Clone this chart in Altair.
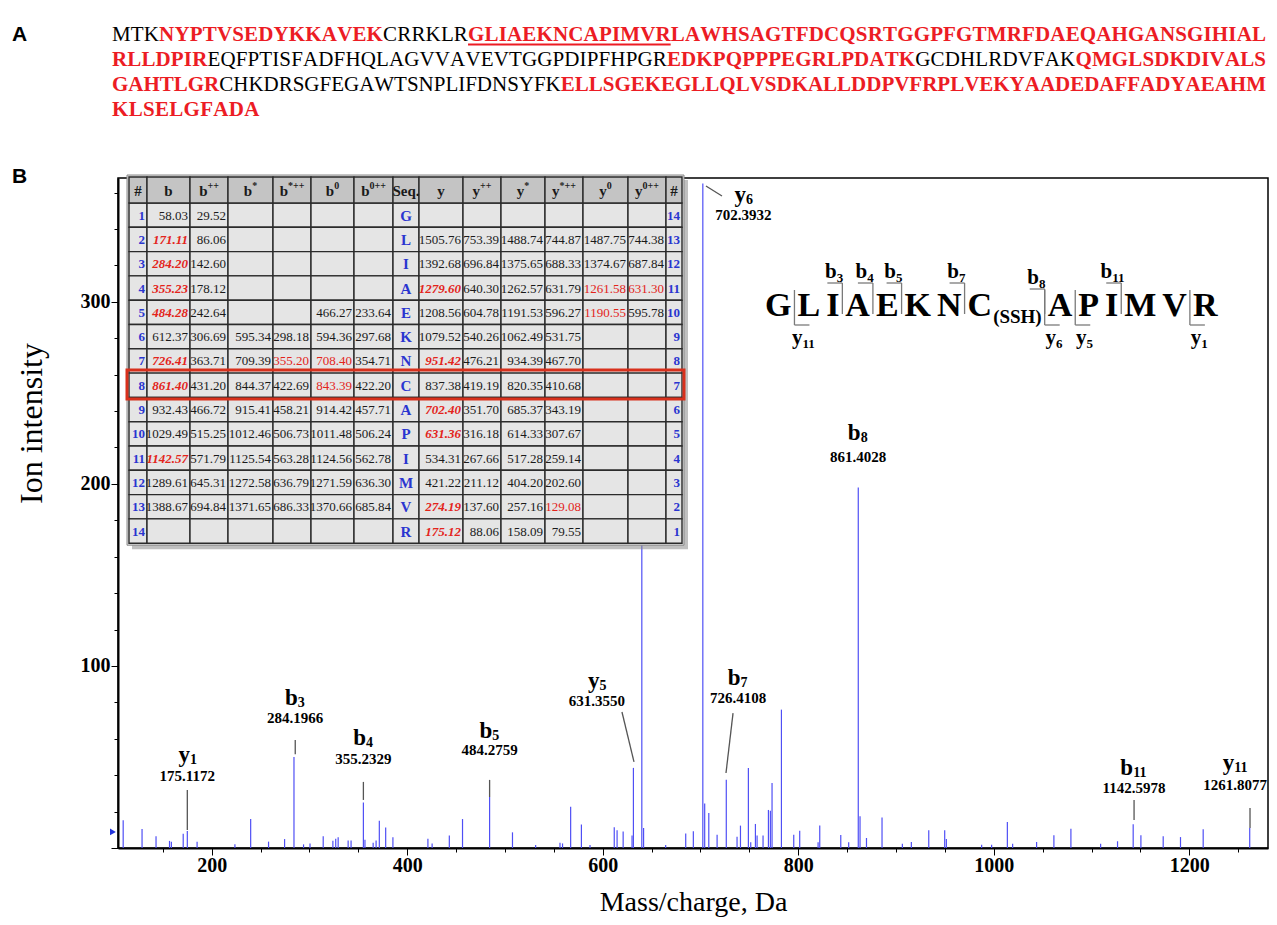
import altair as alt
import pandas as pd

SERIF = "Liberation Serif"
SANS = "Liberation Sans"
PEAK_BLUE = "#4f4ff5"
RED = "#e3241b"
SEQ_RED = "#ec1c24"
TBL_BLUE = "#2a35d0"

# ---------------- spectrum peaks (m/z, intensity) ----------------
peak_mz = [109.5, 128.8, 143.1, 156.9, 158.8, 170.9, 175.1, 185.1, 223.8, 239.9,
           258.2, 274.6, 284.2, 294.0, 300.6, 314.1, 324.0, 326.9, 329.4, 339.6,
           342.6, 355.2, 356.8, 365.2, 368.2, 371.5, 378.0, 385.4, 421.2, 425.5,
           443.1, 456.6, 484.3, 507.7, 531.4, 556.3, 558.9, 567.2, 578.2, 587.0,
           611.8, 614.7, 620.9, 630.0, 631.4, 640.0, 641.8, 664.4, 684.9, 692.7,
           702.4, 704.3, 708.5, 717.0, 726.4, 737.4, 740.9, 749.0, 751.4, 756.2,
           757.9, 764.0, 769.5, 771.5, 773.2, 782.8, 795.4, 801.5, 820.3, 822.0,
           843.5, 851.6, 861.4, 863.2, 869.8, 885.7, 906.5, 915.7, 933.5, 949.8,
           951.5, 987.6, 997.8, 1013.9, 1019.3, 1043.8, 1061.5, 1078.9, 1109.3, 1126.6,
           1142.6, 1150.5, 1173.3, 1191.0, 1214.2, 1261.8]
peak_int = [15.3, 10.4, 6.5, 3.9, 3.5, 7.8, 9.4, 3.5, 2.0, 15.9,
            3.5, 4.9, 50.0, 2.0, 2.5, 6.5, 4.0, 5.1, 5.9, 4.1,
            4.1, 25.0, 4.5, 2.9, 4.1, 14.9, 11.2, 5.9, 5.1, 2.5,
            6.9, 15.9, 28.0, 8.6, 1.6, 2.9, 2.5, 22.7, 12.9, 1.6,
            11.4, 9.8, 9.0, 6.9, 44.0, 330.0, 11.0, 1.6, 8.0, 9.2,
            365.0, 24.5, 19.2, 7.3, 37.5, 6.2, 12.3, 44.0, 3.1, 13.2,
            6.8, 6.8, 20.9, 20.5, 35.7, 76.0, 7.3, 9.5, 3.1, 12.3,
            7.1, 3.1, 198.0, 17.4, 5.5, 16.8, 2.4, 3.3, 9.7, 9.7,
            5.0, 1.8, 1.8, 14.3, 2.4, 3.3, 7.0, 10.6, 2.4, 3.7,
            13.0, 7.0, 6.4, 6.0, 10.3, 11.0]
marker_mz = [99.0]
marker_int = [8.8]

# ---------------- ion annotations ----------------
ion_letter = ["y", "b", "b", "b", "y", "y", "b", "b", "b", "y"]
ion_sub = ["1", "3", "4", "5", "5", "6", "7", "8", "11", "11"]
ion_mass = ["175.1172", "284.1966", "355.2329", "484.2759", "631.3550",
            "702.3932", "726.4108", "861.4028", "1142.5978", "1261.8077"]
label_mz = [175.1, 285.5, 355.2, 484.3, 594.1, 744.0, 738.4, 861.2, 1143.5, 1247.0]
label_int_ion = [51.0, 82.3, 60.3, 64.2, 91.7, 358.6, 93.3, 227.8, 43.8, 46.6]
label_int_mass = [39.5, 71.4, 48.9, 53.8, 80.8, 347.7, 82.4, 214.7, 33.0, 34.6]
leader_mz1 = [175.1, 285.5, 355.2, 484.3, 619.7, 705.6, 733.3, 1143.5, 1262.1]
leader_int1 = [31.9, 59.3, 36.3, 37.4, 74.7, 363.6, 74.1, 26.4, 22.0]
leader_mz2 = [175.1, 285.5, 355.2, 484.3, 632.0, 722.0, 726.1, 1143.5, 1262.1]
leader_int2 = [9.9, 51.5, 26.4, 28.0, 47.3, 358.1, 41.2, 15.4, 11.0]

# ---------------- fragment table ----------------
tbl_header_base = ["#", "b", "b", "b", "b", "b", "b", "Seq.", "y", "y", "y", "y", "y", "y", "#"]
tbl_header_sup = ["", "", "++", "*", "*++", "0", "0++", "", "", "++", "*", "*++", "0", "0++", ""]
tbl_idx = [str(i) for i in range(1, 15)]
tbl_b = ["58.03", "171.11", "284.20", "355.23", "484.28", "612.37", "726.41", "861.40", "932.43",
         "1029.49", "1142.57", "1289.61", "1388.67", ""]
tbl_b2 = ["29.52", "86.06", "142.60", "178.12", "242.64", "306.69", "363.71", "431.20", "466.72",
          "515.25", "571.79", "645.31", "694.84", ""]
tbl_bs = ["", "", "", "", "", "595.34", "709.39", "844.37", "915.41", "1012.46", "1125.54",
          "1272.58", "1371.65", ""]
tbl_bs2 = ["", "", "", "", "", "298.18", "355.20", "422.69", "458.21", "506.73", "563.28",
           "636.79", "686.33", ""]
tbl_b0 = ["", "", "", "", "466.27", "594.36", "708.40", "843.39", "914.42", "1011.48", "1124.56",
          "1271.59", "1370.66", ""]
tbl_b02 = ["", "", "", "", "233.64", "297.68", "354.71", "422.20", "457.71", "506.24", "562.78",
           "636.30", "685.84", ""]
tbl_seq = list("GLIAEKNCAPIMVR")
tbl_y = ["", "1505.76", "1392.68", "1279.60", "1208.56", "1079.52", "951.42", "837.38", "702.40",
         "631.36", "534.31", "421.22", "274.19", "175.12"]
tbl_y2 = ["", "753.39", "696.84", "640.30", "604.78", "540.26", "476.21", "419.19", "351.70",
          "316.18", "267.66", "211.12", "137.60", "88.06"]
tbl_ys = ["", "1488.74", "1375.65", "1262.57", "1191.53", "1062.49", "934.39", "820.35", "685.37",
          "614.33", "517.28", "404.20", "257.16", "158.09"]
tbl_ys2 = ["", "744.87", "688.33", "631.79", "596.27", "531.75", "467.70", "410.68", "343.19",
           "307.67", "259.14", "202.60", "129.08", "79.55"]
tbl_y0 = ["", "1487.75", "1374.67", "1261.58", "1190.55", "", "", "", "", "", "", "", "", ""]
tbl_y02 = ["", "744.38", "687.84", "631.30", "595.78", "", "", "", "", "", "", "", "", ""]
tbl_ridx = [str(i) for i in range(14, 0, -1)]
matched_bold = {"b": [2, 3, 4, 5, 7, 8, 11], "y": [4, 7, 9, 10, 13, 14]}
matched_plain = {"bs2": [7], "b0": [7, 8], "y0": [4, 5], "y02": [4], "ys2": [13]}
highlight_row = 8

# ---------------- peptide ----------------
pep_res = list("GLIAEKNCAPIMVR")
pep_mod = "(SSH)"
pep_mod_after = 8
pep_marks_kind = ["y", "b", "b", "b", "b", "b", "y", "y", "b", "y"]
pep_marks_sub = ["11", "3", "4", "5", "7", "8", "6", "5", "11", "1"]
pep_marks_after = [1, 3, 4, 5, 7, 8, 8, 9, 11, 13]

# ---------------- panel A sequence ----------------
seq_lines = [
    [("MTK", 0, 0), ("NYPTVSEDYKKAVEK", 1, 0), ("CRRKLR", 0, 0), ("GLIAEKNCAPIMVR", 1, 1),
     ("LAWHSAGTFDCQSRTGGPFGTMRFDAEQAHGANSGIHIAL", 1, 0)],
    [("RLLDPIR", 1, 0), ("EQFPTISFADFHQLAGVVAVEVTGGPDIPFHPGR", 0, 0), ("EDKPQPPPEGRLPDATK", 1, 0),
     ("GCDHLRDVFAK", 0, 0), ("QMGLSDKDIVALS", 1, 0)],
    [("GAHTLGR", 1, 0), ("CHKDRSGFEGAWTSNPLIFDNSYFK", 0, 0),
     ("ELLSGEKEGLLQLVSDKALLDDPVFRPLVEKYAADEDAFFADYAEAHM", 1, 0)],
    [("KLSELGFADA", 1, 0)],
]

# ================= layout (page pixels) =================
PX0, PY0, W, H = 118, 178, 1150, 670
MZ_DOM = [104.2, 1280.5]
INT_DOM = [0, 368]

TIMES_R = dict(A=722, B=667, C=667, D=722, E=611, F=556, G=722, H=722, I=333, J=389, K=722,
               L=611, M=889, N=722, O=722, P=556, Q=722, R=667, S=556, T=611, U=722, V=722,
               W=944, X=722, Y=722, Z=611)
TIMES_B = dict(A=722, B=667, C=722, D=722, E=667, F=611, G=778, H=778, I=389, J=500, K=778,
               L=667, M=944, N=722, O=778, P=611, Q=778, R=722, S=556, T=667, U=722, V=722,
               W=1000, X=722, Y=722, Z=667)

# ---- spectrum layers ----
sx_mz = alt.Scale(domain=MZ_DOM, nice=False, zero=False)
sy_int = alt.Scale(domain=INT_DOM, nice=False, zero=False)
x_axis = alt.Axis(
    values=list(range(150, 1251, 50)), format="d",
    labelExpr="datum.value % 200 === 0 ? datum.label : ''",
    tickSize={"condition": {"test": "datum.value % 200 === 0", "value": 7}, "value": 4},
    grid=False, domainColor="black", domainWidth=2, tickColor="black", tickWidth=1,
    labelFont=SERIF, labelFontWeight="bold", labelFontSize=20, labelColor="black", labelPadding=0,
    title="Mass/charge, Da", titleFont=SERIF, titleFontSize=28, titleFontWeight="normal",
    titleColor="black", titleY=40)
y_axis = alt.Axis(
    values=list(range(0, 361, 20)), format="d",
    labelExpr="datum.value % 100 === 0 && datum.value > 0 ? datum.label : ''",
    tickSize={"condition": {"test": "datum.value % 100 === 0", "value": 7}, "value": 4},
    grid=False, domainColor="black", domainWidth=2, tickColor="black", tickWidth=1,
    labelFont=SERIF, labelFontWeight="bold", labelFontSize=20, labelColor="black", labelPadding=1,
    title="Ion intensity", titleFont=SERIF, titleFontSize=32, titleFontWeight="normal",
    titleColor="black", titleX=-70, titleY=245)


def SX(f):
    return alt.X(f, type="quantitative", scale=sx_mz, axis=x_axis)


def SY(f):
    return alt.Y(f, type="quantitative", scale=sy_int, axis=y_axis)


peaks_df = pd.DataFrame({"mz": peak_mz, "inten": peak_int, "base": 0.0})
peaks = alt.Chart(peaks_df).mark_rule(color=PEAK_BLUE, strokeWidth=1.2).encode(
    x=SX("mz"), y=SY("inten"), y2="base")
marker = alt.Chart(pd.DataFrame({"mz": marker_mz, "inten": marker_int})).mark_point(
    shape="triangle-right", filled=True, size=45, color="#2233dd", opacity=1).encode(
    x=SX("mz"), y=SY("inten"))
leaders_df = pd.DataFrame({"x1": leader_mz1, "y1": leader_int1, "x2": leader_mz2, "y2": leader_int2})
leaders = alt.Chart(leaders_df).mark_rule(color="#555555", strokeWidth=1.3).encode(
    x=SX("x1"), y=SY("y1"), x2="x2", y2="y2")

ion_df = pd.DataFrame({"letter": ion_letter, "sub": ion_sub, "nsub": [len(s) for s in ion_sub],
                       "mass": ion_mass, "lx": label_mz, "ly": label_int_ion, "my": label_int_mass})


def sub_text_layers(df, xenc, yenc, fs_main, fs_sub, sub_dy):
    out = []
    for n in (1, 2):
        wl = 0.53 * fs_main
        ws = 0.5 * fs_sub * n
        off = wl - (wl + ws) / 2
        base = alt.Chart(df).transform_filter(alt.datum.nsub == n)
        out.append(base.mark_text(align="right", baseline="middle", dx=off, font=SERIF,
                                  fontWeight="bold", fontSize=fs_main, color="black").encode(
            x=xenc, y=yenc, text="letter:N"))
        out.append(base.mark_text(align="left", baseline="middle", dx=off, dy=sub_dy, font=SERIF,
                                  fontWeight="bold", fontSize=fs_sub, color="black").encode(
            x=xenc, y=yenc, text="sub:N"))
    return out


ion_letters = sub_text_layers(ion_df, SX("lx"), SY("ly"), 23, 14, 5)
ion_masses = alt.Chart(ion_df).mark_text(align="center", baseline="middle", font=SERIF,
                                          fontWeight="bold", fontSize=15, color="black").encode(
    x=SX("lx"), y=SY("my"), text="mass:N")

spectrum = alt.layer(peaks, leaders, marker, ion_masses, *ion_letters)

# ---- overlay (page-pixel scales) ----
sx_pg = alt.Scale(domain=[PX0, PX0 + W], nice=False, zero=False)
sy_pg = alt.Scale(domain=[PY0, PY0 + H], nice=False, zero=False, reverse=True)


def OX(f):
    return alt.X(f, type="quantitative", scale=sx_pg, axis=None)


def OY(f):
    return alt.Y(f, type="quantitative", scale=sy_pg, axis=None)


# table geometry
col_w = [18, 43, 38, 45, 38, 43, 39, 26, 44, 38, 44, 38, 45, 38, 16]
T_X0, T_Y0, HDR_H, ROW_H = 129, 177, 26, 24.3
col_x0 = [T_X0]
for w_ in col_w:
    col_x0.append(col_x0[-1] + w_)
T_X1 = col_x0[-1]
T_Y1 = T_Y0 + HDR_H + 14 * ROW_H

cols = [tbl_idx, tbl_b, tbl_b2, tbl_bs, tbl_bs2, tbl_b0, tbl_b02, tbl_seq,
        tbl_y, tbl_y2, tbl_ys, tbl_ys2, tbl_y0, tbl_y02, tbl_ridx]
col_keys = ["idx", "b", "b2", "bs", "bs2", "b0", "b02", "seq",
            "y", "y2", "ys", "ys2", "y0", "y02", "ridx"]

cell_rows = []
text_rows = []
for ci in range(15):
    x0, x1 = col_x0[ci], col_x0[ci + 1]
    cell_rows.append(dict(x0=x0, x1=x1, y0=T_Y0, y1=T_Y0 + HDR_H, hdr=1))
    for r in range(14):
        y0 = T_Y0 + HDR_H + r * ROW_H
        cell_rows.append(dict(x0=x0, x1=x1, y0=y0, y1=y0 + ROW_H, hdr=0))
        val = cols[ci][r]
        if val == "":
            continue
        key = col_keys[ci]
        if key in ("idx", "ridx"):
            style, tx = "blue", x1 - 2
        elif key == "seq":
            style, tx = "seq", (x0 + x1) / 2
        elif r + 1 in matched_bold.get(key, []):
            style, tx = "redbi", x1 - 2
        elif r + 1 in matched_plain.get(key, []):
            style, tx = "red", x1 - 2
        else:
            style, tx = "black", x1 - 2
        text_rows.append(dict(tx=tx, ty=y0 + ROW_H / 2 + 0.5, text=val, style=style))
cells_df = pd.DataFrame(cell_rows)
ttext_df = pd.DataFrame(text_rows)

hdr_c, hdr_b, hdr_s = [], [], []
for ci in range(15):
    cx = (col_x0[ci] + col_x0[ci + 1]) / 2
    cy = T_Y0 + HDR_H / 2 + 1
    base, sup = tbl_header_base[ci], tbl_header_sup[ci]
    if sup == "":
        hdr_c.append(dict(tx=cx, ty=cy, text=base))
    else:
        wb = (0.556 if base == "b" else 0.5) * 15
        ws = sum(5.7 if ch == "+" else 5.0 for ch in sup)
        ax = cx - (wb + ws) / 2 + wb
        hdr_b.append(dict(tx=ax, ty=cy, text=base))
        hdr_s.append(dict(tx=ax, ty=cy, text=sup))

frame_df = pd.DataFrame({"x0": [T_X0 - 2], "x1": [T_X1 + 2], "y0": [T_Y0 - 2], "y1": [T_Y1 + 2]})
shadow_df = pd.DataFrame({"x0": [T_X0 + 3], "x1": [T_X1 + 6], "y0": [T_Y0 + 3], "y1": [T_Y1 + 6]})
hl_y0 = T_Y0 + HDR_H + (highlight_row - 1) * ROW_H
hl_df = pd.DataFrame({"x0": [T_X0 - 2], "x1": [T_X1 + 2], "y0": [hl_y0 - 3], "y1": [hl_y0 + ROW_H + 1.5]})


def rect_layer(df, **kw):
    return alt.Chart(df).mark_rect(**kw).encode(x=OX("x0"), x2="x1", y=OY("y0"), y2="y1")


tbl_layers = [
    rect_layer(shadow_df, color="#8c8c8c", opacity=0.55),
    rect_layer(frame_df, fill="#dedede", stroke="#8a8a8a", strokeWidth=1),
    rect_layer(cells_df[cells_df.hdr == 0], fill="#e5e5e5", stroke="#2b2b2b", strokeWidth=1.4),
    rect_layer(cells_df[cells_df.hdr == 1], fill="#c4c4c4", stroke="#2b2b2b", strokeWidth=1.4),
]
text_styles = {
    "black": dict(align="right", fontSize=13, color="#1a1a1a"),
    "red": dict(align="right", fontSize=13, color=RED),
    "redbi": dict(align="right", fontSize=13, color=RED, fontWeight="bold", fontStyle="italic"),
    "blue": dict(align="right", fontSize=13, color=TBL_BLUE, fontWeight="bold"),
    "seq": dict(align="center", fontSize=15, color=TBL_BLUE, fontWeight="bold"),
}
for st, kw in text_styles.items():
    sub = ttext_df[ttext_df["style"] == st]
    tbl_layers.append(alt.Chart(sub).mark_text(baseline="middle", font=SERIF, **kw).encode(
        x=OX("tx"), y=OY("ty"), text="text:N"))
tbl_layers.append(alt.Chart(pd.DataFrame(hdr_c)).mark_text(
    baseline="middle", align="center", font=SERIF, fontWeight="bold", fontSize=15, color="#1a1a1a").encode(
    x=OX("tx"), y=OY("ty"), text="text:N"))
tbl_layers.append(alt.Chart(pd.DataFrame(hdr_b)).mark_text(
    baseline="middle", align="right", font=SERIF, fontWeight="bold", fontSize=15, color="#1a1a1a").encode(
    x=OX("tx"), y=OY("ty"), text="text:N"))
tbl_layers.append(alt.Chart(pd.DataFrame(hdr_s)).mark_text(
    baseline="middle", align="left", dy=-5, font=SERIF, fontWeight="bold", fontSize=10, color="#1a1a1a").encode(
    x=OX("tx"), y=OY("ty"), text="text:N"))
tbl_layers.append(rect_layer(hl_df, fillOpacity=0, stroke="#d8301c", strokeWidth=3))

# peptide geometry
PEP_FS, MOD_FS = 34, 19
PEP_X, PEP_GAP, PEP_BASE = 765, 6, 316
pep_rows, right_edge, left_edge = [], {}, {}
x = PEP_X
mod_row = None
for i, r in enumerate(pep_res):
    w_ = TIMES_B[r] * PEP_FS / 1000
    pep_rows.append(dict(tx=x + w_ / 2, ty=PEP_BASE, text=r))
    left_edge[i + 1] = x
    right = x + w_
    if i + 1 == pep_mod_after:
        mw = 2.556 * MOD_FS
        mod_row = dict(tx=right + 1 + mw / 2, ty=PEP_BASE + 7, text=pep_mod)
        right = right + 1 + mw
    right_edge[i + 1] = right
    x = right + PEP_GAP
pep_df = pd.DataFrame(pep_rows)
mod_df = pd.DataFrame([mod_row])

mk_lines, mk_labels = [], []
for kind, sub, k in zip(pep_marks_kind, pep_marks_sub, pep_marks_after):
    xd = (right_edge[k] + left_edge[k + 1]) / 2
    if kind == "b":
        top = 289 if sub == "8" else 283
        mk_lines.append(dict(x1=xd - 15, y1=top, x2=xd, y2=top))
        mk_lines.append(dict(x1=xd, y1=top, x2=xd, y2=314))
        mk_labels.append(dict(letter="b", sub=sub, nsub=len(sub), lx=xd - 8, ly=top - 11))
    else:
        mk_lines.append(dict(x1=xd, y1=290, x2=xd, y2=325))
        mk_lines.append(dict(x1=xd, y1=325, x2=xd + 15, y2=325))
        mk_labels.append(dict(letter="y", sub=sub, nsub=len(sub), lx=xd + 9, ly=338))
mk_lines_df = pd.DataFrame(mk_lines)
mk_labels_df = pd.DataFrame(mk_labels)

pep_layers = [
    alt.Chart(mk_lines_df).mark_rule(color="#7a7a7a", strokeWidth=1.3).encode(
        x=OX("x1"), y=OY("y1"), x2="x2", y2="y2"),
    alt.Chart(pep_df).mark_text(align="center", baseline="alphabetic", font=SERIF, fontWeight="bold",
                                fontSize=PEP_FS, color="black").encode(x=OX("tx"), y=OY("ty"), text="text:N"),
    alt.Chart(mod_df).mark_text(align="center", baseline="alphabetic", font=SERIF, fontWeight="bold",
                                fontSize=MOD_FS, color="black").encode(x=OX("tx"), y=OY("ty"), text="text:N"),
] + sub_text_layers(mk_labels_df, OX("lx"), OY("ly"), 21, 13, 6)

# panel A sequence, justified
FS_A, A_X0, A_X1, A_BASE0, A_LINE = 21, 112, 1266, 41, 25
chars, ulines = [], []
for li, segs in enumerate(seq_lines):
    items = [(c, b, u) for s, b, u in segs for c in s]
    widths = [(TIMES_B if b else TIMES_R)[c] * FS_A / 1000 for c, b, u in items]
    nat = sum(widths)
    extra = (A_X1 - A_X0 - nat) / (len(items) - 1) if li < 3 else 0.3
    x = A_X0
    ul_x = []
    for (c, b, u), w_ in zip(items, widths):
        chars.append(dict(tx=x + w_ / 2, ty=A_BASE0 + li * A_LINE, text=c, bold=b))
        if u:
            ul_x += [x, x + w_]
        x += w_ + extra
    if ul_x:
        ulines.append(dict(x1=min(ul_x), x2=max(ul_x), y1=A_BASE0 + li * A_LINE + 3.5))
chars_df = pd.DataFrame(chars)
ul_df = pd.DataFrame(ulines)
ul_df["y2"] = ul_df["y1"]

panel_df = pd.DataFrame({"tx": [12, 12], "ty": [41, 183], "text": ["A", "B"]})

a_layers = [
    alt.Chart(chars_df[chars_df.bold == 1]).mark_text(
        align="center", baseline="alphabetic", font=SERIF, fontWeight="bold", fontSize=FS_A,
        color=SEQ_RED).encode(x=OX("tx"), y=OY("ty"), text="text:N"),
    alt.Chart(chars_df[chars_df.bold == 0]).mark_text(
        align="center", baseline="alphabetic", font=SERIF, fontSize=FS_A,
        color="black").encode(x=OX("tx"), y=OY("ty"), text="text:N"),
    alt.Chart(ul_df).mark_rule(color=SEQ_RED, strokeWidth=2).encode(
        x=OX("x1"), x2="x2", y=OY("y1"), y2="y2"),
    alt.Chart(panel_df).mark_text(align="left", baseline="alphabetic", font=SANS, fontWeight="bold",
                                  fontSize=21, color="black").encode(x=OX("tx"), y=OY("ty"), text="text:N"),
]

overlay = alt.layer(*tbl_layers, *pep_layers, *a_layers)

# the page has an 8px body margin on every side: the svg must fit in 1261x909
SVG_W, SVG_H = 1277 - 16, 925 - 16
chart = alt.layer(spectrum, overlay).resolve_scale(x="independent", y="independent").properties(
    width=W, height=H,
    autosize=alt.AutoSizeParams(type="none"),
    padding={"left": PX0 - 8, "top": PY0 - 8,
             "right": SVG_W - (PX0 - 8) - W, "bottom": SVG_H - (PY0 - 8) - H},
    background="white",
).configure_view(stroke="black", strokeWidth=1.5)

chart.save("out.html", embed_options={"renderer": "svg", "actions": False})
